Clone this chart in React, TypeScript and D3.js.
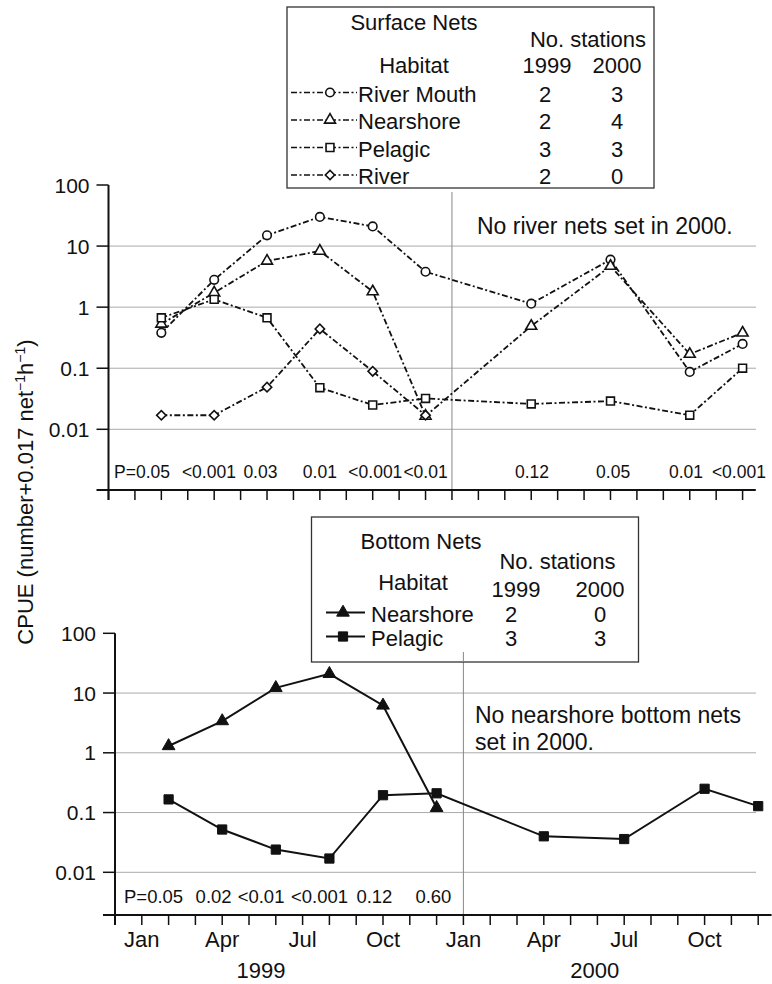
import React from 'react';
import * as d3 from 'd3';

const W = 772;
const H = 984;
const FONT = '"Liberation Sans", Arial, Helvetica, sans-serif';

// sampling months, counted from Dec 1998 (0) so that 13 = Jan 2000
const months = [2, 4, 6, 8, 10, 12, 16, 19, 22, 24];
const months1999 = [2, 4, 6, 8, 10, 12];

// surface nets, CPUE (number + 0.017 net-1 h-1)
const surfRiverMouth = [0.38, 2.8, 15, 30, 21, 3.8, 1.14, 6.0, 0.087, 0.25];
const surfNearshore = [0.53, 1.72, 5.7, 8.3, 1.8, 0.0165, 0.49, 4.7, 0.17, 0.38];
const surfPelagic = [0.67, 1.34, 0.67, 0.048, 0.025, 0.032, 0.026, 0.029, 0.017, 0.1];
const surfRiver = [0.017, 0.017, 0.049, 0.44, 0.089, 0.017];

// bottom nets
const botNearshore = [1.3, 3.4, 12.2, 21, 6.2, 0.12];
const botPelagic = [0.166, 0.052, 0.024, 0.017, 0.195, 0.21, 0.04, 0.036, 0.25, 0.128];

const yTicks = [100, 10, 1, 0.1, 0.01];
const gridValues = [10, 1, 0.1, 0.01];
const monthTicks = d3.range(0, 25);
const monthLabels: [number, string][] = [
  [1, 'Jan'], [4, 'Apr'], [7, 'Jul'], [10, 'Oct'],
  [13, 'Jan'], [16, 'Apr'], [19, 'Jul'], [22, 'Oct'],
];
const yearLabels: [number, string][] = [[5.45, '1999'], [17.9, '2000']];

// P values printed along the bottom of each panel
const pTop: [number, string][] = [
  [1.27, 'P=0.05'], [3.8, '<0.001'], [5.75, '0.03'], [8.0, '0.01'], [10.1, '<0.001'],
  [12.0, '<0.01'], [16.03, '0.12'], [19.1, '0.05'], [21.86, '0.01'], [23.86, '<0.001'],
];
const pBottom: [number, string][] = [
  [1.44, 'P=0.05'], [3.68, '0.02'], [5.45, '<0.01'], [7.63, '<0.001'], [9.68, '0.12'], [11.88, '0.60'],
];

const surfLegend = [
  { name: 'River Mouth', shape: 'circle', n1999: 2, n2000: 3 },
  { name: 'Nearshore', shape: 'triangle', n1999: 2, n2000: 4 },
  { name: 'Pelagic', shape: 'square', n1999: 3, n2000: 3 },
  { name: 'River', shape: 'diamond', n1999: 2, n2000: 0 },
];
const botLegend = [
  { name: 'Nearshore', shape: 'triangle', n1999: 2, n2000: 0 },
  { name: 'Pelagic', shape: 'square', n1999: 3, n2000: 3 },
];

const symbolPath = (shape: string, big = false) => {
  if (shape === 'circle') return d3.symbol(d3.symbolCircle, 58)()!;
  if (shape === 'triangle') return d3.symbol(d3.symbolTriangle, big ? 70 : 52)()!;
  if (shape === 'square') return d3.symbol(d3.symbolSquare, big ? 85 : 62)()!;
  return d3.symbol(d3.symbolSquare, 44)()!; // rotated for diamond
};

const Marker = ({ x, y, shape, filled }: any) => (
  <path
    d={symbolPath(shape, filled)}
    transform={`translate(${x},${y})${shape === 'diamond' ? ' rotate(45)' : ''}`}
    fill={filled ? '#111' : '#fff'}
    stroke="#111"
    strokeWidth={filled ? 1 : 1.6}
  />
);

const DASH = '6 2.5 2 2.5';

const Panel = ({ xr, yr, axisY, divTop, series, pLabels, pSize, showMonths }: any) => {
  const x = d3.scaleLinear().domain([0, 24.5]).range(xr);
  const y = d3.scaleLog().domain([0.01, 100]).range(yr);
  const ax = xr[0];
  const gridRight = 756;
  return (
    <g>
      {gridValues.map((v) => (
        <line key={v} x1={ax} x2={gridRight} y1={y(v)} y2={y(v)} stroke="#aaa" strokeWidth={1} />
      ))}
      <line x1={x(13)} x2={x(13)} y1={divTop} y2={axisY} stroke="#888" strokeWidth={1} />
      {/* y axis */}
      <line x1={ax} x2={ax} y1={y(100)} y2={axisY + 10} stroke="#111" strokeWidth={2} />
      {yTicks.map((v) => (
        <g key={v}>
          <line x1={ax - 12} x2={ax} y1={y(v)} y2={y(v)} stroke="#111" strokeWidth={1.5} />
          <text x={ax - 19} y={y(v)} dy="0.36em" textAnchor="end" fontSize={21} fill="#111">
            {String(v)}
          </text>
        </g>
      ))}
      {/* x axis */}
      <line x1={ax - 12} x2={xr[1]} y1={axisY} y2={axisY} stroke="#111" strokeWidth={2} />
      {monthTicks.map((m) => (
        <line key={m} x1={x(m)} x2={x(m)} y1={axisY} y2={axisY + 10} stroke="#111" strokeWidth={1.5} />
      ))}
      {showMonths &&
        monthLabels.map(([m, t], i) => (
          <text key={i} x={x(m)} y={axisY + 32} textAnchor="middle" fontSize={22} fill="#111">
            {t}
          </text>
        ))}
      {showMonths &&
        yearLabels.map(([m, t]) => (
          <text key={t} x={x(m)} y={axisY + 63} textAnchor="middle" fontSize={22} fill="#111">
            {t}
          </text>
        ))}
      {pLabels.map(([m, t]: [number, string], i: number) => (
        <text key={i} x={x(m)} y={axisY - 12} textAnchor="middle" fontSize={pSize} fill="#111">
          {t}
        </text>
      ))}
      {series.map((s: any, si: number) => {
        const pts = s.values.map((v: number, i: number) => [x(s.months[i]), y(v)]);
        return (
          <g key={si}>
            <path
              d={d3.line()(pts as [number, number][])!}
              fill="none"
              stroke="#111"
              strokeWidth={s.filled ? 2 : 1.8}
              strokeDasharray={s.filled ? undefined : DASH}
            />
            {pts.map((p: number[], i: number) => (
              <Marker key={i} x={p[0]} y={p[1]} shape={s.shape} filled={s.filled} />
            ))}
          </g>
        );
      })}
    </g>
  );
};

export default function App() {
  const topSeries = [
    { values: surfRiverMouth, months, shape: 'circle' },
    { values: surfNearshore, months, shape: 'triangle' },
    { values: surfPelagic, months, shape: 'square' },
    { values: surfRiver, months: months1999, shape: 'diamond' },
  ];
  const botSeries = [
    { values: botNearshore, months: months1999, shape: 'triangle', filled: true },
    { values: botPelagic, months, shape: 'square', filled: true },
  ];
  return (
    <div style={{ position: 'absolute', left: 0, top: 0 }}>
      <svg width={W} height={H} style={{ display: 'block', background: '#fff', fontFamily: FONT }}>
        <Panel
          xr={[108.5, 755.8]}
          yr={[429.3, 185]}
          axisY={490}
          divTop={192}
          series={topSeries}
          pLabels={pTop}
          pSize={17.5}
          showMonths={false}
        />
        <Panel
          xr={[115, 771.6]}
          yr={[872.3, 633.3]}
          axisY={915}
          divTop={652}
          series={botSeries}
          pLabels={pBottom}
          pSize={18.5}
          showMonths={true}
        />

        {/* annotations */}
        <text x={477} y={234} fontSize={23} fill="#111">No river nets set in 2000.</text>
        <text x={475} y={723} fontSize={23} fill="#111">No nearshore bottom nets</text>
        <text x={475} y={750} fontSize={23} fill="#111">set in 2000.</text>

        {/* y axis title */}
        <text transform="translate(33,492) rotate(-90)" textAnchor="middle" fontSize={22} fill="#111">
          CPUE (number+0.017 net
          <tspan dy={-8} fontSize={14}>−1</tspan>
          <tspan dy={8}>h</tspan>
          <tspan dy={-8} fontSize={14}>−1</tspan>
          <tspan dy={8}>)</tspan>
        </text>

        {/* surface nets legend */}
        <g>
          <rect x={287} y={7} width={367} height={181} fill="#fff" stroke="#333" strokeWidth={1.3} />
          <text x={414} y={30} textAnchor="middle" fontSize={22} fill="#111">Surface Nets</text>
          <text x={588} y={47} textAnchor="middle" fontSize={22} fill="#111">No. stations</text>
          <text x={414} y={73} textAnchor="middle" fontSize={22} fill="#111">Habitat</text>
          <text x={547} y={73} textAnchor="middle" fontSize={22} fill="#111">1999</text>
          <text x={617} y={73} textAnchor="middle" fontSize={22} fill="#111">2000</text>
          {surfLegend.map((d, i) => {
            const by = 101.5 + i * 27.5;
            const ly = by - 9;
            return (
              <g key={d.name}>
                <line x1={291} x2={357} y1={ly} y2={ly} stroke="#111" strokeWidth={1.5} strokeDasharray={DASH} />
                <Marker x={330} y={ly} shape={d.shape} />
                <text x={358} y={by} fontSize={22} fill="#111">{d.name}</text>
                <text x={545} y={by} textAnchor="middle" fontSize={22} fill="#111">{d.n1999}</text>
                <text x={617} y={by} textAnchor="middle" fontSize={22} fill="#111">{d.n2000}</text>
              </g>
            );
          })}
        </g>

        {/* bottom nets legend */}
        <g>
          <rect x={311.5} y={517} width={327} height={145} fill="#fff" stroke="#333" strokeWidth={1.3} />
          <text x={421} y={549} textAnchor="middle" fontSize={22} fill="#111">Bottom Nets</text>
          <text x={557.5} y={569} textAnchor="middle" fontSize={22} fill="#111">No. stations</text>
          <text x={413} y={590} textAnchor="middle" fontSize={22} fill="#111">Habitat</text>
          <text x={516} y={597} textAnchor="middle" fontSize={22} fill="#111">1999</text>
          <text x={600} y={597} textAnchor="middle" fontSize={22} fill="#111">2000</text>
          {botLegend.map((d, i) => {
            const by = 621.5 + i * 24;
            const ly = by - 9;
            return (
              <g key={d.name}>
                <line x1={326} x2={365} y1={ly} y2={ly} stroke="#111" strokeWidth={1.8} />
                <Marker x={343} y={ly} shape={d.shape} filled />
                <text x={371} y={by} fontSize={22} fill="#111">{d.name}</text>
                <text x={511} y={by} textAnchor="middle" fontSize={22} fill="#111">{d.n1999}</text>
                <text x={600} y={by} textAnchor="middle" fontSize={22} fill="#111">{d.n2000}</text>
              </g>
            );
          })}
        </g>
        {/* divider of bottom panel shows through the legend's lower edge */}
        <line x1={463.4} x2={463.4} y1={652} y2={662} stroke="#888" strokeWidth={1} />
      </svg>
    </div>
  );
}
